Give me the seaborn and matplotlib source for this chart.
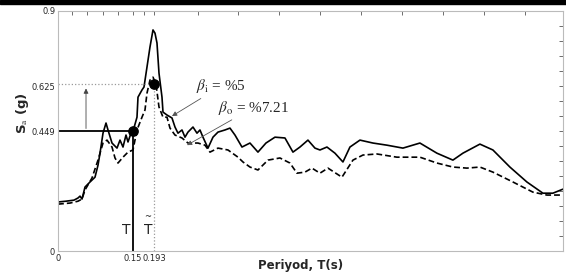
import numpy as np
import pandas as pd
import matplotlib
matplotlib.use("Agg")
import matplotlib.pyplot as plt
from matplotlib.patches import Rectangle
import seaborn as sns

# spectrum for beta = %5 (solid)
t_5 = [0.000, 0.016, 0.032, 0.040, 0.044, 0.048, 0.054, 0.064, 0.074, 0.080, 0.084, 0.090,
       0.096, 0.100, 0.108, 0.118, 0.124, 0.130, 0.136, 0.140, 0.146, 0.150, 0.158, 0.160,
       0.168, 0.172, 0.178, 0.184, 0.190, 0.194, 0.198, 0.202, 0.208, 0.210, 0.218, 0.228,
       0.234, 0.240, 0.248, 0.254, 0.260, 0.270, 0.278, 0.284, 0.290, 0.300, 0.310, 0.320,
       0.334, 0.344, 0.354, 0.368, 0.384, 0.400, 0.416, 0.434, 0.454, 0.470, 0.484, 0.500,
       0.514, 0.524, 0.538, 0.554, 0.570, 0.584, 0.604, 0.630, 0.658, 0.690, 0.724, 0.758,
       0.790, 0.810, 0.844, 0.870, 0.904, 0.938, 0.970, 0.990, 1.010]
sa_5 = [0.184, 0.187, 0.191, 0.199, 0.206, 0.195, 0.240, 0.259, 0.277, 0.322, 0.367, 0.442,
        0.480, 0.454, 0.405, 0.386, 0.416, 0.390, 0.435, 0.409, 0.442, 0.449, 0.502, 0.577,
        0.604, 0.615, 0.690, 0.765, 0.829, 0.817, 0.780, 0.667, 0.577, 0.521, 0.510, 0.499,
        0.465, 0.442, 0.454, 0.427, 0.446, 0.465, 0.442, 0.454, 0.427, 0.386, 0.427, 0.446,
        0.454, 0.461, 0.435, 0.390, 0.405, 0.371, 0.405, 0.427, 0.424, 0.371, 0.390, 0.416,
        0.386, 0.379, 0.390, 0.367, 0.334, 0.390, 0.416, 0.405, 0.397, 0.386, 0.405, 0.367,
        0.341, 0.367, 0.401, 0.379, 0.315, 0.259, 0.217, 0.217, 0.232]

# spectrum for beta = %7.21 (dashed)
t_721 = [0.000, 0.024, 0.040, 0.048, 0.054, 0.068, 0.080, 0.090, 0.098, 0.108, 0.114, 0.120,
         0.130, 0.140, 0.150, 0.158, 0.168, 0.174, 0.178, 0.184, 0.190, 0.196, 0.202, 0.210,
         0.218, 0.224, 0.234, 0.248, 0.260, 0.280, 0.294, 0.304, 0.320, 0.340, 0.360, 0.370,
         0.384, 0.400, 0.420, 0.444, 0.464, 0.478, 0.494, 0.508, 0.524, 0.540, 0.568, 0.590,
         0.610, 0.638, 0.678, 0.724, 0.758, 0.790, 0.818, 0.844, 0.870, 0.910, 0.950, 0.978,
         1.010]
sa_721 = [0.176, 0.180, 0.187, 0.195, 0.229, 0.274, 0.341, 0.405, 0.416, 0.390, 0.349, 0.330,
          0.352, 0.371, 0.379, 0.454, 0.502, 0.529, 0.592, 0.641, 0.652, 0.626, 0.540, 0.502,
          0.502, 0.461, 0.435, 0.424, 0.405, 0.405, 0.397, 0.371, 0.386, 0.379, 0.352, 0.334,
          0.315, 0.304, 0.341, 0.349, 0.330, 0.292, 0.296, 0.311, 0.292, 0.311, 0.277, 0.341,
          0.360, 0.364, 0.352, 0.352, 0.330, 0.315, 0.311, 0.315, 0.296, 0.259, 0.221, 0.210,
          0.210]

T_i, Sa_i = 0.15, 0.449
T_t, Sa_t = 0.193, 0.625

x_ticks = [0, 0.028, 0.058, 0.09, 0.12, 0.15, 0.172, 0.193, 0.28, 0.36, 0.442, 0.524,
           0.606, 0.688, 0.77, 0.852, 0.934]
x_labels = {0: "0", 0.15: "0.15", 0.193: "0.193"}
y_ticks = list(np.arange(17) * 0.9 / 16)
y_labels = [(0, "0"), (0.449, "0.449"), (0.625, "0.625"), (0.9, "0.9")]

df = pd.concat([
    pd.DataFrame({"T": t_5, "Sa": sa_5, "beta": "5"}),
    pd.DataFrame({"T": t_721, "Sa": sa_721, "beta": "7.21"}),
])

sns.set_style("white")
plt.rcParams["font.family"] = ["DejaVu Sans"]
plt.rcParams["mathtext.fontset"] = "stix"

fig = plt.figure(figsize=(5.66, 2.75), dpi=100)
ax = fig.add_axes([0.1025, 0.087, 0.892, 0.873])

sns.lineplot(data=df, x="T", y="Sa", style="beta", color="black", sort=False,
             estimator=None, dashes={"5": "", "7.21": (3.5, 1.8)}, linewidth=1.2,
             legend=False, ax=ax)

# guide lines
ax.plot([0, T_i], [Sa_i, Sa_i], color="black", lw=1.3)
ax.plot([T_i, T_i], [0, Sa_i], color="black", lw=1.3)
ax.plot([0, T_t], [Sa_t, Sa_t], color="#999999", lw=0.9, ls=":")
ax.plot([T_t, T_t], [0, Sa_t], color="#999999", lw=0.9, ls=":")
ax.scatter([T_i, T_t], [Sa_i, Sa_t], s=45, color="black", zorder=5)
ax.annotate("", xy=(0.056, Sa_t - 0.005), xytext=(0.056, Sa_i),
            arrowprops=dict(arrowstyle="-|>", color="#444444", lw=0.6,
                            mutation_scale=7))

ax.text(0.136, 0.08, "T", fontsize=10, ha="center", va="center", color="#222222")
ax.text(0.180, 0.08, "T", fontsize=10, ha="center", va="center", color="#222222")
ax.text(0.180, 0.128, "~", fontsize=6, ha="center", va="center", color="#222222")

ax.annotate(r"$\beta_{\rm i}$ = %5", xy=(0.228, 0.506), xytext=(0.276, 0.618),
            fontsize=11, family="Liberation Serif", va="center",
            arrowprops=dict(arrowstyle="-|>", color="#555555", lw=0.6,
                            mutation_scale=7, shrinkA=0, shrinkB=0))
ax.annotate(r"$\beta_{\rm o}$ = %7.21", xy=(0.258, 0.397), xytext=(0.32, 0.538),
            fontsize=11, family="Liberation Serif", va="center",
            arrowprops=dict(arrowstyle="-|>", color="#555555", lw=0.6,
                            mutation_scale=7, shrinkA=0, shrinkB=0))

ax.set_xlim(0, 1.01)
ax.set_ylim(0, 0.9)
ax.set_xticks(x_ticks)
ax.set_xticklabels([x_labels.get(t, "") for t in x_ticks], fontsize=6)
ax.set_yticks(y_ticks)
lab = []
for t in y_ticks:
    s = ""
    for v, txt in y_labels:
        if abs(t - v) < 0.02:
            s = txt
    lab.append(s)
ax.set_yticklabels(lab, fontsize=6)
ax.tick_params(direction="in", length=3, width=0.6, top=True, right=True,
               color="#555555", pad=2)
for sp in ax.spines.values():
    sp.set_color("#bbbbbb")
    sp.set_linewidth(0.8)

ax.set_xlabel("Periyod, T(s)", fontsize=8.5, fontweight="bold", va="center")
ax.xaxis.set_label_coords(0.48, -0.062)
ax.set_ylabel(r"S$_{\rm a}$ (g)", fontsize=9.5, fontweight="bold", va="center")
ax.yaxis.set_label_coords(-0.07, 0.575)

fig.patches.append(Rectangle((0, 0.985), 1, 0.015, transform=fig.transFigure,
                             color="black", zorder=10))

fig.savefig("out.png", dpi=100)
